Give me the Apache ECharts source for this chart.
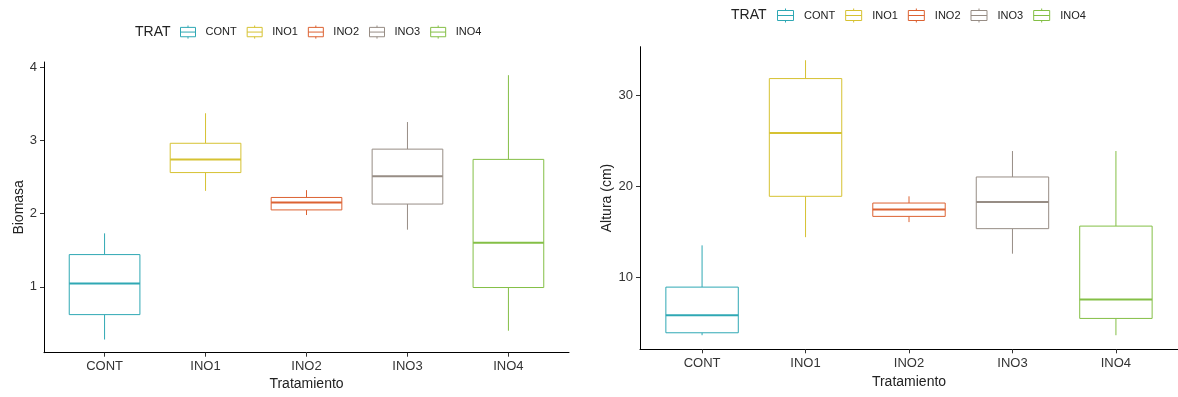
<!DOCTYPE html>
<html>
<head>
<meta charset="utf-8">
<script src="https://cdn.jsdelivr.net/npm/echarts@6/dist/echarts.min.js"></script>
<style>
html,body{margin:0;padding:0;background:#fff;}
#chart{width:1178px;height:397px;}
</style>
</head>
<body>
<div id="chart"></div>
<script>
// ---- data ----
const categories = ['CONT', 'INO1', 'INO2', 'INO3', 'INO4'];
const colors = ['#2fa8b4', '#d6c232', '#dc6232', '#978d85', '#84bf46'];

// Biomasa boxplot stats per treatment
const biomasaLow    = [0.28, 2.31, 1.98, 1.78, 0.40];
const biomasaQ1     = [0.62, 2.56, 2.05, 2.13, 0.99];
const biomasaMedian = [1.045, 2.74, 2.15, 2.51, 1.60];
const biomasaQ3     = [1.44, 2.96, 2.22, 2.88, 2.74];
const biomasaHigh   = [1.73, 3.37, 2.32, 3.25, 3.89];
const biomasaTicks  = [1, 2, 3, 4];

// Altura (cm) boxplot stats per treatment
const alturaLow    = [3.6, 14.4, 16.06, 12.58, 3.6];
const alturaQ1     = [3.87, 18.9, 16.69, 15.34, 5.45];
const alturaMedian = [5.81, 25.88, 17.46, 18.27, 7.54];
const alturaQ3     = [8.9, 31.87, 18.16, 21.03, 15.62];
const alturaHigh   = [13.5, 33.89, 18.9, 23.89, 23.89];
const alturaTicks  = [10, 20, 30];

const catPositions = [1, 2, 3, 4, 5];

// ---- chart ----
const FONT = 'Liberation Sans, Arial, sans-serif';
const BOX_W = 0.7;

function renderBox(params, api) {
  const x = api.value(0);
  const lo = api.value(1), q1 = api.value(2), med = api.value(3), q3 = api.value(4), hi = api.value(5);
  const c = api.visual('color');
  const tl = api.coord([x - BOX_W / 2, q3]);
  const br = api.coord([x + BOX_W / 2, q1]);
  const pMed = api.coord([x, med]);
  const pHi = api.coord([x, hi]);
  const pLo = api.coord([x, lo]);
  const lineStyle = { stroke: c, lineWidth: 1, fill: null };
  return {
    type: 'group',
    children: [
      { type: 'line', shape: { x1: pHi[0], y1: pHi[1], x2: pHi[0], y2: tl[1] }, style: lineStyle },
      { type: 'line', shape: { x1: pLo[0], y1: br[1], x2: pLo[0], y2: pLo[1] }, style: lineStyle },
      { type: 'rect', shape: { x: tl[0], y: tl[1], width: br[0] - tl[0], height: br[1] - tl[1] }, style: { stroke: c, lineWidth: 1, fill: '#fff' } },
      { type: 'line', shape: { x1: tl[0], y1: pMed[1], x2: br[0], y2: pMed[1] }, style: { stroke: c, lineWidth: 2 } }
    ]
  };
}

function buildSeries(axisIdx, low, q1, med, q3, high) {
  return categories.map((name, i) => ({
    name: name,
    type: 'custom',
    xAxisIndex: axisIdx,
    yAxisIndex: axisIdx,
    color: colors[i],
    renderItem: renderBox,
    encode: { x: 0, y: [1, 2, 3, 4, 5] },
    data: [[catPositions[i], low[i], q1[i], med[i], q3[i], high[i]]],
    silent: true
  }));
}

const iconPath = 'path://M0,2H16V12H0Z M0,7H16 M8,0V2 M8,12V14';

function buildLegend(left, top, iw) {
  return {
    left: left, top: top, orient: 'horizontal', padding: 0,
    itemWidth: iw, itemHeight: 14, itemGap: 10,
    selectedMode: false,
    textStyle: { fontFamily: FONT, fontSize: 11, color: '#222', padding: [0, 0, 0, 5] },
    data: categories.map((n, i) => ({
      name: n, icon: iconPath,
      itemStyle: { color: 'rgba(0,0,0,0)', borderColor: colors[i], borderWidth: 1 }
    }))
  };
}

function xAxisCfg(gridIdx, nameGap, margin) {
  return {
    type: 'value', gridIndex: gridIdx, min: 0.4, max: 5.6,
    name: 'Tratamiento', nameLocation: 'middle', nameGap: nameGap,
    nameTextStyle: { fontFamily: FONT, fontSize: 14, color: '#222' },
    axisLine: { show: true, lineStyle: { color: '#000', width: 1 } },
    axisTick: { show: true, length: 4, customValues: catPositions, lineStyle: { color: '#333' } },
    axisLabel: {
      customValues: catPositions, margin: margin,
      fontFamily: FONT, fontSize: 13, color: '#333',
      formatter: v => categories[Math.round(v) - 1]
    },
    splitLine: { show: false }
  };
}

function yAxisCfg(gridIdx, name, min, max, ticks, nameGap, fs) {
  return {
    type: 'value', gridIndex: gridIdx, min: min, max: max,
    name: name, nameLocation: 'middle', nameGap: nameGap, nameRotate: 90,
    nameTextStyle: { fontFamily: FONT, fontSize: 14, color: '#222' },
    axisLine: { show: true, lineStyle: { color: '#000', width: 1 } },
    axisTick: { show: true, length: 4, customValues: ticks, lineStyle: { color: '#333' } },
    axisLabel: { customValues: ticks, margin: 7, fontFamily: FONT, fontSize: fs, color: '#333' },
    splitLine: { show: false }
  };
}

const chart = echarts.init(document.getElementById('chart'), null, { renderer: 'canvas' });
chart.setOption({
  backgroundColor: '#fff',
  animation: false,
  title: [
    { text: 'TRAT', left: 135, top: 25, padding: 0, textStyle: { fontFamily: FONT, fontSize: 14, fontWeight: 'normal', color: '#222' } },
    { text: 'TRAT', left: 731, top: 8, padding: 0, textStyle: { fontFamily: FONT, fontSize: 14, fontWeight: 'normal', color: '#222' } }
  ],
  legend: [buildLegend(180, 25, 15), buildLegend(777, 8, 17)],
  grid: [
    { left: 44, top: 62, width: 525, height: 290.7, containLabel: false },
    { left: 640, top: 46.7, width: 540, height: 302.6, containLabel: false }
  ],
  xAxis: [xAxisCfg(0, 23, 7), xAxisCfg(1, 24, 8)],
  yAxis: [
    yAxisCfg(0, 'Biomasa', 0.1, 4.07, biomasaTicks, 18, 13),
    yAxisCfg(1, 'Altura (cm)', 2.05, 35.38, alturaTicks, 20, 13)
  ],
  series: buildSeries(0, biomasaLow, biomasaQ1, biomasaMedian, biomasaQ3, biomasaHigh)
    .concat(buildSeries(1, alturaLow, alturaQ1, alturaMedian, alturaQ3, alturaHigh))
});
</script>
</body>
</html>
